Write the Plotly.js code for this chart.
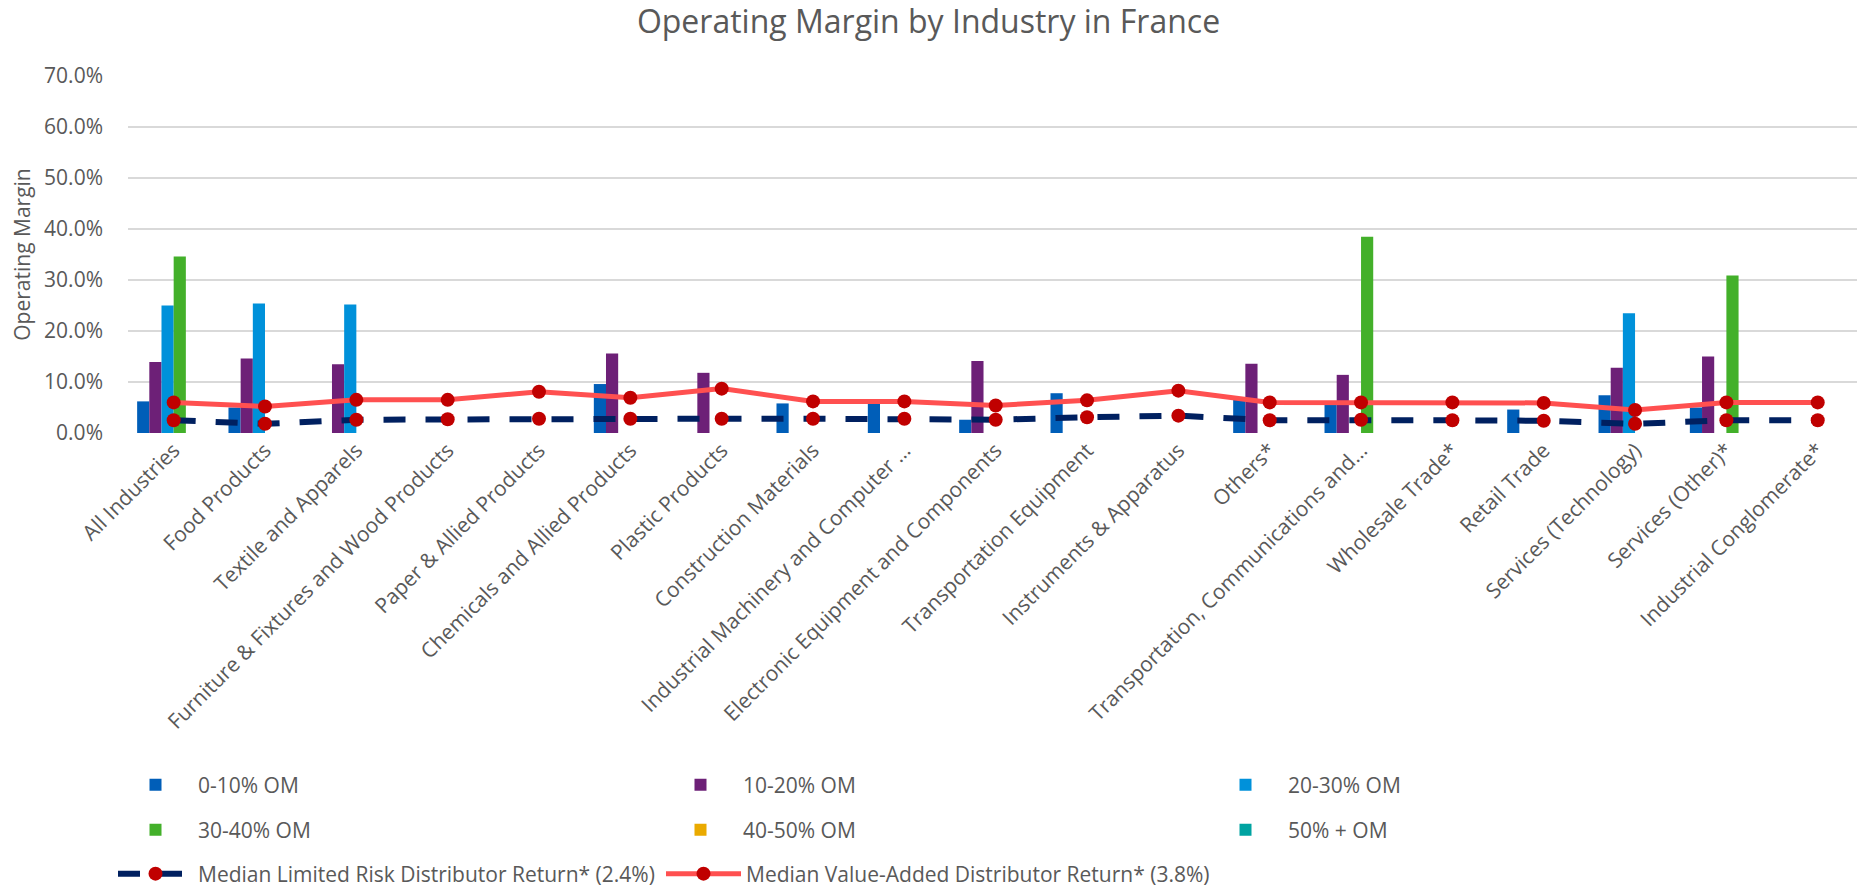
<!DOCTYPE html>
<html>
<head>
<meta charset="utf-8">
<script src="https://cdn.plot.ly/plotly-3.0.1.min.js"></script>
<style>
  html, body { margin: 0; padding: 0; background: #ffffff; }
  #chart { width: 1857px; height: 886px; }
</style>
</head>
<body>
<div id="chart"></div>
<script>
// ---- data (operating margin, %) ----
const categories = [
  "All Industries", "Food Products", "Textile and Apparels",
  "Furniture & Fixtures and Wood Products", "Paper & Allied Products",
  "Chemicals and Allied Products", "Plastic Products", "Construction Materials",
  "Industrial Machinery and Computer …", "Electronic Equipment and Components",
  "Transportation Equipment", "Instruments & Apparatus", "Others*",
  "Transportation, Communications and…", "Wholesale Trade*", "Retail Trade",
  "Services (Technology)", "Services (Other)*", "Industrial Conglomerate*"
];
const om0to10  = [6.2, 5.0, null, null, null, 9.6, null, 5.8, 5.8, 2.6, 7.8, null, 6.6, 5.6, null, 4.6, 7.4, 5.0, null];
const om10to20 = [13.9, 14.6, 13.5, null, null, 15.6, 11.8, null, null, 14.1, null, null, 13.6, 11.4, null, null, 12.8, 15.0, null];
const om20to30 = [25.0, 25.4, 25.2, null, null, null, null, null, null, null, null, null, null, null, null, null, 23.5, null, null];
const om30to40 = [34.6, null, null, null, null, null, null, null, null, null, null, null, null, 38.5, null, null, null, 30.9, null];
const om40to50 = [null, null, null, null, null, null, null, null, null, null, null, null, null, null, null, null, null, null, null];
const om50plus = [null, null, null, null, null, null, null, null, null, null, null, null, null, null, null, null, null, null, null];
const medianLRD = [2.5, 1.8, 2.6, 2.7, 2.8, 2.8, 2.8, 2.8, 2.8, 2.6, 3.1, 3.4, 2.5, 2.6, 2.5, 2.4, 1.8, 2.5, 2.5];
const medianVAD = [6.0, 5.2, 6.5, 6.5, 8.1, 6.9, 8.7, 6.2, 6.2, 5.4, 6.4, 8.3, 6.0, 6.0, 6.0, 5.9, 4.5, 6.0, 6.0];
const yTickVals = [0, 10, 20, 30, 40, 50, 60, 70];

const barNames  = ["0-10% OM", "10-20% OM", "20-30% OM", "30-40% OM", "40-50% OM", "50% + OM"];
const barSeries = [om0to10, om10to20, om20to30, om30to40, om40to50, om50plus];
const barColors = ["#005EB8", "#6D2077", "#0091DA", "#43B02A", "#EAAA00", "#00A3A1"];
const barLegends = ["legend", "legend", "legend", "legend2", "legend2", "legend2"];

const FONT = "'Open Sans', 'Noto Sans', sans-serif";
const GREY = "#595959";

const traces = barSeries.map((vals, i) => ({
  type: "bar",
  name: barNames[i],
  x: categories,
  y: vals,
  marker: { color: barColors[i], line: { width: 0 } },
  legend: barLegends[i],
  hoverinfo: "x+y+name"
}));

traces.push({
  type: "scatter",
  mode: "lines+markers",
  name: "Median Limited Risk Distributor Return* (2.4%)",
  x: categories,
  y: medianLRD,
  line: { color: "#002060", width: 6, dash: "22px,20px" },
  marker: { color: "#C00000", size: 14, symbol: "circle" },
  legend: "legend3"
});
traces.push({
  type: "scatter",
  mode: "lines+markers",
  name: "Median Value-Added Distributor Return* (3.8%)",
  x: categories,
  y: medianVAD,
  line: { color: "#FF5050", width: 5 },
  marker: { color: "#C00000", size: 14, symbol: "circle" },
  legend: "legend4"
});

const COL0 = 113, COLSTEP = 548;
const legendBase = {
  orientation: "h",
  xref: "container",
  yref: "container",
  xanchor: "left",
  yanchor: "middle",
  x: COL0 / 1857,
  entrywidth: 455,
  entrywidthmode: "pixels",
  font: { family: FONT, size: 21, color: GREY },
  bgcolor: "rgba(0,0,0,0)",
  itemwidth: 75,
  traceorder: "normal"
};

const layout = {
  width: 1857,
  height: 886,
  paper_bgcolor: "#ffffff",
  plot_bgcolor: "#ffffff",
  margin: { l: 128, r: 0, t: 76, b: 453, pad: 0 },
  font: { family: FONT, color: GREY },
  title: {
    text: "Operating Margin by Industry in France",
    font: { family: FONT, size: 32, color: GREY },
    x: 0.5, xref: "container", xanchor: "center",
    y: 1 - 22 / 886, yref: "container", yanchor: "middle"
  },
  barmode: "group",
  bargap: 0.2,
  bargroupgap: 0,
  xaxis: {
    type: "category",
    range: [-0.5, 18.43],
    tickangle: -45,
    tickfont: { family: FONT, size: 21, color: GREY },
    showgrid: false,
    showline: false,
    zeroline: false,
    ticks: "",
    automargin: false
  },
  yaxis: {
    range: [0, 70],
    tickvals: yTickVals,
    ticktext: yTickVals.map(v => v.toFixed(1) + "%"),
    tickfont: { family: FONT, size: 21, color: GREY },
    showgrid: true,
    gridcolor: "#D9D9D9",
    gridwidth: 1.5,
    zeroline: false,
    showline: false,
    ticks: "",
    ticklabelstandoff: 24,
    automargin: false,
    title: { text: "Operating Margin", font: { family: FONT, size: 21, color: GREY }, standoff: 7 }
  },
  legend: Object.assign({}, legendBase, { y: 1 - 785 / 886 }),
  legend2: Object.assign({}, legendBase, { y: 1 - 830 / 886 }),
  legend3: Object.assign({}, legendBase, { y: 1 - 874 / 886, entrywidth: 0 }),
  legend4: Object.assign({}, legendBase, { y: 1 - 874 / 886, x: (COL0 + COLSTEP) / 1857, entrywidth: 0 }),
  showlegend: true
};

Plotly.newPlot("chart", traces, layout, { displayModeBar: false, responsive: false });
</script>
</body>
</html>
